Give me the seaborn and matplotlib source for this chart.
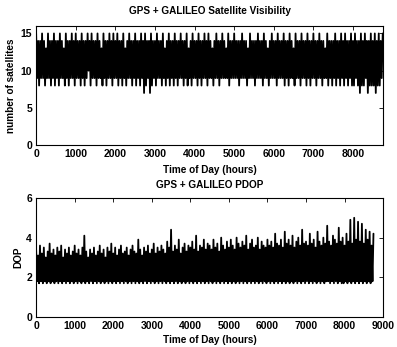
import numpy as np
import pandas as pd
import matplotlib
matplotlib.use("Agg")
import matplotlib.pyplot as plt
import seaborn as sns

# hours of the year, one reading every 25 h
hours = list(range(0, 8760, 25))

# number of visible satellites
sats = [15, 9, 14, 8, 14, 9, 15, 9, 14, 8, 13, 9, 15, 9, 14, 8, 14, 9, 15, 8,
        14, 9, 14, 8, 15, 9, 14, 9, 13, 8, 15, 9, 14, 8, 14, 9, 15, 9, 14, 8,
        15, 9, 14, 9, 14, 8, 15, 9, 14, 8, 14, 9, 15, 10, 14, 8, 15, 9, 14, 9,
        14, 8, 15, 9, 14, 9, 13, 8, 15, 9, 14, 8, 14, 9, 15, 9, 14, 8, 15, 9,
        14, 9, 15, 8, 14, 9, 14, 8, 15, 9, 13, 8, 14, 9, 15, 9, 14, 8, 14, 9,
        15, 8, 14, 9, 14, 8, 15, 9, 14, 7, 15, 8, 14, 9, 14, 7, 15, 8, 14, 9,
        14, 8, 15, 9, 14, 9, 14, 8, 15, 9, 13, 8, 14, 9, 15, 8, 14, 9, 14, 8,
        15, 9, 14, 8, 14, 9, 15, 9, 14, 8, 14, 9, 15, 8, 13, 9, 14, 8, 15, 9,
        14, 9, 14, 8, 15, 9, 14, 8, 14, 9, 15, 9, 14, 8, 15, 9, 14, 9, 13, 8,
        14, 9, 15, 9, 14, 8, 14, 9, 15, 9, 14, 9, 13, 9, 15, 8, 14, 9, 14, 9,
        15, 9, 14, 9, 14, 8, 14, 9, 15, 9, 14, 9, 14, 8, 13, 9, 15, 9, 14, 9,
        14, 8, 14, 9, 15, 9, 14, 9, 14, 8, 15, 9, 14, 9, 13, 8, 14, 9, 15, 9,
        14, 9, 14, 8, 15, 9, 14, 9, 14, 9, 15, 8, 14, 9, 14, 8, 15, 9, 14, 9,
        13, 8, 15, 9, 14, 9, 14, 8, 15, 9, 14, 9, 14, 8, 15, 9, 14, 8, 14, 9,
        15, 9, 14, 8, 14, 9, 15, 9, 14, 8, 14, 9, 13, 9, 15, 8, 14, 9, 14, 8,
        14, 9, 15, 8, 14, 9, 14, 8, 15, 9, 14, 8, 15, 9, 14, 8, 14, 9, 15, 8,
        14, 8, 15, 9, 14, 8, 14, 7, 15, 8, 14, 8, 15, 9, 14, 7, 14, 8, 15, 8,
        14, 8, 15, 7, 14, 8, 15, 8, 14, 9, 15]

# PDOP
pdop = [3.4, 1.8, 3.1, 1.7, 3.6, 1.8, 3.2, 1.7, 3.5, 1.8, 3.0, 1.7, 3.3, 1.8, 3.7, 1.7, 3.2, 1.8, 3.4, 1.7,
        3.1, 1.8, 3.5, 1.7, 3.3, 1.8, 3.6, 1.7, 3.0, 1.8, 3.4, 1.7, 3.2, 1.8, 3.5, 1.7, 3.1, 1.8, 3.3, 1.7,
        3.6, 1.8, 3.2, 1.7, 3.4, 1.8, 3.1, 1.7, 3.5, 1.8, 4.1, 1.7, 3.3, 1.8, 3.0, 1.7, 3.4, 1.8, 3.2, 1.7,
        3.5, 1.8, 3.1, 1.7, 3.3, 1.8, 3.6, 1.7, 3.2, 1.8, 3.4, 1.7, 3.0, 1.8, 3.5, 1.7, 3.3, 1.8, 3.7, 1.7,
        3.2, 1.8, 3.5, 1.7, 3.1, 1.8, 3.4, 1.7, 3.6, 1.8, 3.2, 1.7, 3.3, 1.8, 3.5, 1.7, 3.1, 1.8, 3.4, 1.7,
        3.6, 1.8, 3.3, 1.7, 3.2, 1.8, 3.9, 1.7, 3.4, 1.8, 3.1, 1.7, 3.5, 1.8, 3.3, 1.7, 3.6, 1.8, 3.2, 1.7,
        3.4, 1.8, 3.7, 1.7, 3.2, 1.8, 3.5, 1.7, 3.3, 1.8, 3.6, 1.7, 3.4, 1.8, 3.2, 1.7, 3.8, 1.8, 3.5, 1.7,
        4.4, 1.8, 3.3, 1.7, 3.6, 1.8, 3.4, 1.7, 3.9, 1.8, 3.2, 1.7, 3.5, 1.8, 3.7, 1.7, 3.3, 1.8, 3.6, 1.7,
        3.5, 1.8, 3.8, 1.7, 3.4, 1.8, 4.1, 1.7, 3.3, 1.8, 3.6, 1.7, 3.5, 1.8, 3.9, 1.7, 3.4, 1.8, 3.7, 1.7,
        3.6, 1.8, 3.4, 1.7, 3.9, 1.8, 3.5, 1.7, 3.7, 1.8, 3.3, 1.7, 4.0, 1.8, 3.6, 1.7, 3.4, 1.8, 3.8, 1.7,
        3.5, 1.8, 3.9, 1.7, 3.6, 1.8, 3.4, 1.7, 4.0, 1.8, 3.7, 1.7, 3.5, 1.8, 3.8, 1.7, 3.6, 1.8, 4.1, 1.7,
        3.4, 1.8, 3.7, 1.7, 3.9, 1.8, 3.5, 1.7, 3.6, 1.8, 4.0, 1.7, 3.4, 1.8, 3.8, 1.7, 3.6, 1.8, 3.5, 1.7,
        3.9, 1.8, 3.6, 1.7, 3.8, 1.8, 3.5, 1.7, 4.2, 1.8, 3.7, 1.7, 3.6, 1.8, 3.9, 1.7, 3.5, 1.8, 4.3, 1.7,
        3.7, 1.8, 3.9, 1.7, 3.6, 1.8, 4.1, 1.7, 3.5, 1.8, 3.8, 1.7, 4.0, 1.8, 3.6, 1.7, 4.4, 1.8, 3.7, 1.7,
        3.8, 1.8, 3.6, 1.7, 4.2, 1.8, 3.7, 1.7, 3.9, 1.8, 3.5, 1.7, 4.3, 1.8, 3.8, 1.7, 3.6, 1.8, 4.0, 1.7,
        3.7, 1.8, 4.6, 1.8, 3.8, 1.7, 3.6, 1.8, 4.1, 1.7, 3.9, 1.8, 3.7, 1.7, 4.5, 1.8, 3.8, 1.7, 4.0, 1.7,
        3.6, 1.8, 4.2, 1.7, 3.8, 1.8, 4.9, 1.7, 3.7, 1.8, 5.0, 1.7, 3.9, 1.8, 4.8, 1.7, 3.8, 1.8, 4.7, 1.7,
        3.7, 1.8, 4.4, 1.7, 3.9, 1.8, 4.3, 1.7, 3.6, 1.8, 4.2]

df = pd.DataFrame({"hour": hours, "sats": sats, "pdop": pdop})

sns.set_style("white")
plt.rcParams["font.family"] = ["Liberation Sans", "DejaVu Sans"]
plt.rcParams["font.weight"] = "bold"
plt.rcParams["text.color"] = "black"
plt.rcParams["axes.labelcolor"] = "black"
fs = 7.2

fig = plt.figure(figsize=(3.97, 3.47), dpi=100)
ax1 = fig.add_axes([0.091, 0.582, 0.874, 0.343])
ax2 = fig.add_axes([0.091, 0.0865, 0.874, 0.343])

sns.lineplot(data=df, x="hour", y="sats", ax=ax1, color="black", linewidth=1.3)
ax1.set_xlim(0, 8760)
ax1.set_ylim(0, 16)
ax1.set_yticks([0, 5, 10, 15])
ax1.set_xticks(range(0, 9000, 1000))
ax1.set_title("GPS + GALILEO Satellite Visibility", fontsize=fs, fontweight="bold", pad=9)
ax1.set_xlabel("Time of Day (hours)", fontsize=fs, fontweight="bold", labelpad=4)
ax1.set_ylabel("number of satellites", fontsize=fs, fontweight="bold", labelpad=3)

sns.lineplot(data=df, x="hour", y="pdop", ax=ax2, color="black", linewidth=1.3)
ax2.set_xlim(0, 9000)
ax2.set_ylim(0, 6)
ax2.set_yticks([0, 2, 4, 6])
ax2.set_xticks(range(0, 10000, 1000))
ax2.set_title("GPS + GALILEO PDOP", fontsize=fs, fontweight="bold", pad=7)
ax2.set_xlabel("Time of Day (hours)", fontsize=fs, fontweight="bold", labelpad=3)
ax2.set_ylabel("DOP", fontsize=fs, fontweight="bold", labelpad=2)

for ax in (ax1, ax2):
    for s in ax.spines.values():
        s.set_color("black")
        s.set_linewidth(0.8)
    ax.tick_params(direction="in", length=3, width=0.6, top=True, right=True,
                   labelsize=7.5, pad=3, colors="black")
    for lab in ax.get_xticklabels() + ax.get_yticklabels():
        lab.set_fontweight("bold")

fig.savefig("out.png", dpi=100)
